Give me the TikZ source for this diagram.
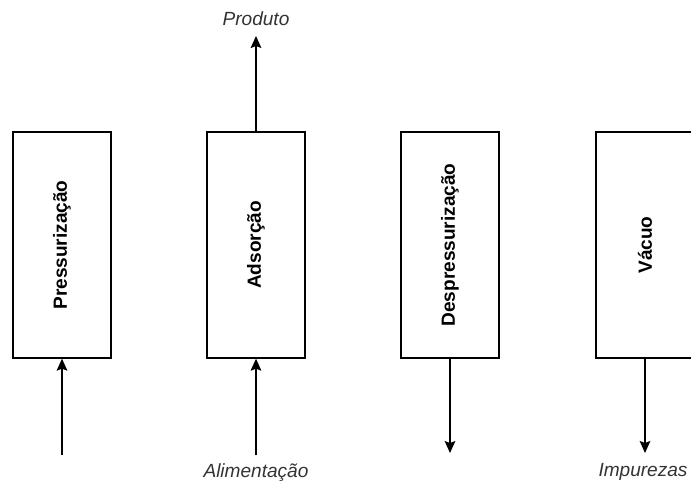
\documentclass[tikz,border=0pt]{standalone}
\usepackage{fontspec}
\setmainfont{Liberation Sans}
\usepackage{tikz}
\usetikzlibrary{arrows.meta}
\tikzstyle{stage}=[draw=black, line width=1pt, minimum width=73.5pt, minimum height=169.5pt, inner sep=0pt, font=\fontsize{14.3}{16}\selectfont\bfseries]
\tikzstyle{stream}=[inner sep=1pt, font=\fontsize{14.3}{16}\selectfont\itshape, text=black!80]
\tikzstyle{arrow}=[draw=black, line width=1pt, -{Stealth[length=9pt, width=8pt, inset=1.5pt]}]

\begin{document}
\begin{tikzpicture}[x=0.75pt, y=-0.75pt]
	\useasboundingbox (0,0) rectangle (691,485);
	\begin{scope}
		\node (p) at (62, 245)[stage] {\rotatebox{90}{Pressurização}};
		\node (a) at (256, 245)[stage] {\rotatebox{90}{Adsorção}};
		\node (d) at (450, 245)[stage] {\rotatebox{90}{Despressurização}};
		\node (v) at (645, 245)[stage] {\rotatebox{90}{Vácuo}};

		\coordinate (pin) at (62, 455);
		\coordinate (ain) at (256, 455);
		\coordinate (aout) at (256, 36);
		\coordinate (dout) at (450, 453);
		\coordinate (vout) at (645, 453);

		\node (feed) at (256, 473)[stream] {Alimentação};
		\node (prod) at (256, 19)[stream] {Produto};
		\node (imp) at (643, 472)[stream] {Impurezas};
	\end{scope}
	\begin{scope}
		\draw [arrow] (pin) -- (p.south);
		\draw [arrow] (ain) -- (a.south);
		\draw [arrow] (a.north) -- (aout);
		\draw [arrow] (d.south) -- (dout);
		\draw [arrow] (v.south) -- (vout);
	\end{scope}
\end{tikzpicture}
\end{document}
